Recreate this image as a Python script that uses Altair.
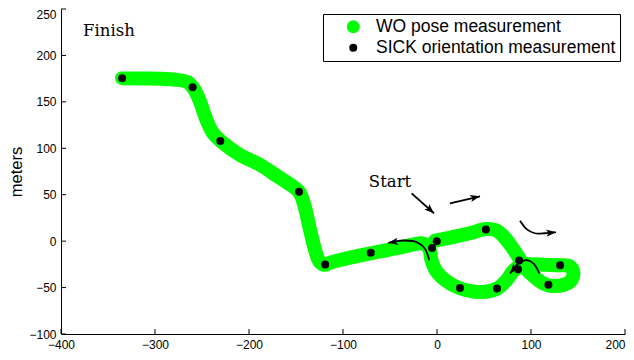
import math
import altair as alt
import pandas as pd

# ---------------- data ----------------
series_names = ["WO pose measurement", "SICK orientation measurement"]

# WO pose (green) trajectory, from Start to Finish
path_x = [-2, 15, 35, 52, 62, 70, 78, 86, 93, 102, 112, 120, 135, 143, 145, 141, 131, 115,
          100, 90, 82, 74, 64, 52, 40, 25, 10, -1, -6, -8, -15, -35, -60, -80, -100, -113,
          -120, -125, -129, -135, -141, -146, -152, -170, -188, -210, -228, -238, -245, -252,
          -258, -265, -280, -335]
path_y = [0.5, 4, 8.5, 13, 12, 6, -4, -16, -28, -37, -45, -48, -47, -42, -33, -27, -26, -25.5,
          -25, -25.5, -31, -42, -51, -54.5, -54.5, -51, -43, -32, -20, -9, -2.5, -6, -11, -15,
          -19.5, -23, -25.5, -22, -12, 12, 38, 52, 58, 70, 82, 93, 106, 116, 130, 150, 163,
          171, 174, 175.5]

# SICK orientation measurements (black dots)
dot_x = [-335, -260, -230.5, -146.8, -119, -70.5, -0.3, -5.3, 52, 87.4, 86.2, 118.5, 131, 63.8, 24.5]
dot_y = [175.5, 165.6, 107.8, 53.2, -25.2, -12.4, 0, -7.5, 12.6, -20.8, -30.2, -47, -26, -51, -50.4]

# direction arrows
arrow_x = [[-27, -3.2],
           [13.8, 45.7],
           [88.3, 95.4, 104, 115, 126.6],
           [109, 102.5, 95.4, 86.5, 77.7],
           [-8.2, -12.8, -21.6, -35.8, -51.8]]
arrow_y = [[51.4, 30],
           [40.8, 48.3],
           [22, 13, 8.5, 8.5, 9.6],
           [-34.8, -24, -20.5, -24, -34.8],
           [-20.6, -8.2, -1, 0.7, -1.8]]

# annotations
note_text = ["Finish", "Start"]
note_x = [-349, -50]
note_y = [226.6, 63.8]

x_ticks = [-400, -300, -200, -100, 0, 100, 200]
y_ticks = [-100, -50, 0, 50, 100, 150, 200, 250]

# ---------------- tables ----------------
path_df = pd.DataFrame({"x": path_x, "y": path_y, "i": range(len(path_x))})
dots_df = pd.DataFrame({"x": dot_x, "y": dot_y, "series": series_names[1]})

arr_rows, head_rows = [], []
for k, (ax, ay) in enumerate(zip(arrow_x, arrow_y)):
    for j, (xx, yy) in enumerate(zip(ax, ay)):
        arr_rows.append({"x": xx, "y": yy, "a": k, "i": j})
    dx, dy = ax[-1] - ax[-2], ay[-1] - ay[-2]
    ang = math.degrees(math.atan2(dx, dy)) % 360
    head_rows.append({"x": ax[-1], "y": ay[-1], "ang": ang})
arr_df = pd.DataFrame(arr_rows)
head_df = pd.DataFrame(head_rows)
note_df = pd.DataFrame({"x": note_x, "y": note_y, "t": note_text})
xt_df = pd.DataFrame({"x": x_ticks})
yt_df = pd.DataFrame({"y": y_ticks})

W, H = 564, 325
FONT = "Liberation Sans"

xenc = alt.X("x:Q", scale=alt.Scale(domain=[-400, 200], nice=False, zero=False),
             axis=alt.Axis(values=x_ticks, title=None, grid=False, ticks=False, tickSize=0,
                           labelFont=FONT, labelFontSize=12, labelColor="black",
                           labelPadding=5, labelFlush=False, labelOverlap=False,
                           labelAlign=alt.expr("datum.value == 200 ? 'right' : 'center'"),
                           domainColor="black", domainWidth=1))
yenc = alt.Y("y:Q", scale=alt.Scale(domain=[-100, 250], nice=False, zero=False),
             axis=alt.Axis(values=y_ticks, title="meters", grid=False, ticks=False, tickSize=0,
                           labelFont=FONT, labelFontSize=12, labelColor="black",
                           labelPadding=5, labelFlush=False, labelOverlap=False,
                           labelBaseline=alt.expr("datum.value == 250 ? 'top' : 'middle'"),
                           domainColor="black", domainWidth=1,
                           titleFont=FONT, titleFontSize=16.5, titleFontWeight="normal",
                           titleColor="black", titleAngle=270, titleX=-39.5, titleY=H / 2,
                           titleAlign="center", titleBaseline="alphabetic"))

green = alt.Chart(path_df).mark_line(
    color="#00ff00", strokeWidth=14, strokeCap="round", strokeJoin="round",
    interpolate="catmull-rom"
).encode(x=xenc, y=yenc, order="i:Q")

leg = alt.Legend(title=None, orient="none", legendX=262, legendY=5)
dots = alt.Chart(dots_df).mark_circle(opacity=1, strokeWidth=0).encode(
    x=xenc, y=yenc,
    color=alt.Color("series:N", scale=alt.Scale(domain=series_names, range=["#00ff00", "#000000"]),
                    legend=leg),
    size=alt.Size("series:N", scale=alt.Scale(type="ordinal", domain=series_names, range=[170, 64]),
                  legend=leg),
)

arrows = alt.Chart(arr_df).mark_line(
    color="black", strokeWidth=1.8, interpolate="catmull-rom"
).encode(x=xenc, y=yenc, detail="a:N", order="i:Q")

heads = alt.Chart(head_df).mark_point(
    shape="M0,0 L-0.6,1.6 L0,1.2 L0.6,1.6 Z", filled=True, color="black", opacity=1,
    size=150, strokeWidth=0
).encode(x=xenc, y=yenc, angle=alt.Angle("ang:Q", scale=None))

notes = alt.Chart(note_df).mark_text(
    font="DejaVu Serif", fontSize=16.5, color="black", align="center", baseline="middle"
).encode(x=xenc, y=yenc, text="t:N")

xticks = alt.Chart(xt_df).mark_rule(color="black", strokeWidth=1).encode(
    x=xenc, y=alt.value(H), y2=alt.value(H - 5))
yticks = alt.Chart(yt_df).mark_rule(color="black", strokeWidth=1).encode(
    y=yenc, x=alt.value(0), x2=alt.value(5))

chart = alt.layer(green, dots, arrows, heads, notes, xticks, yticks).properties(
    width=W, height=H,
    autosize=alt.AutoSizeParams(type="none"),
    padding={"left": 53, "top": 1, "right": 1, "bottom": 18},
).configure_view(stroke=None).configure_legend(
    padding=4, strokeColor="black", strokeWidth=1, fillColor="white",
    labelFont=FONT, labelFontSize=17.5, labelColor="black", labelLimit=400,
    rowPadding=2, symbolOffset=17.5, labelOffset=14, symbolType="circle",
    symbolStrokeWidth=0, cornerRadius=0,
)

chart.save("out.html", embed_options={"renderer": "svg", "actions": False})
